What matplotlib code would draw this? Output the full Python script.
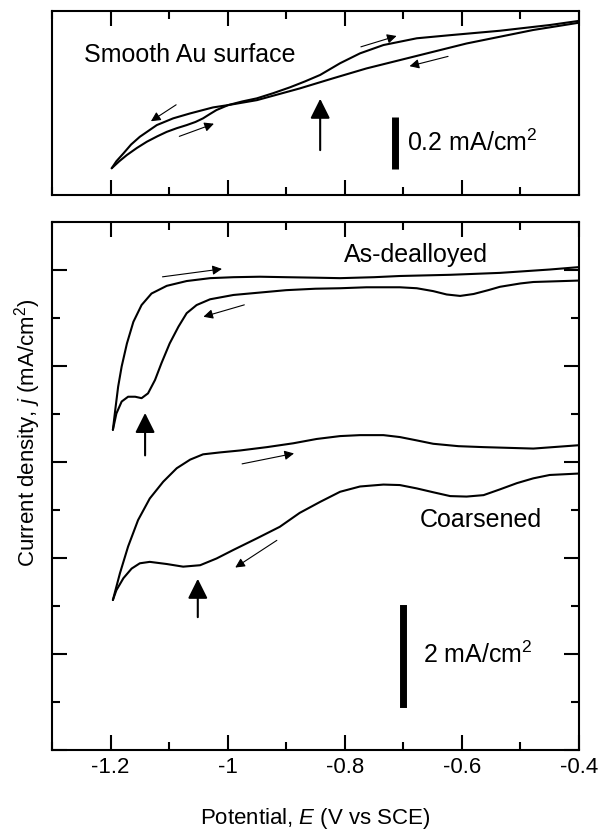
import matplotlib
matplotlib.use('Agg')
import matplotlib.pyplot as plt
from matplotlib.ticker import MultipleLocator, NullLocator, NullFormatter

plt.rcParams['font.family'] = ['Liberation Sans', 'DejaVu Sans']
plt.rcParams['mathtext.fontset'] = 'custom'
plt.rcParams['mathtext.rm'] = 'Liberation Sans'
plt.rcParams['mathtext.it'] = 'Liberation Sans:italic'

# smooth Au surface (mA/cm2, arbitrary offset)
smooth_fwd_E = [-1.198, -1.185, -1.172, -1.155, -1.138, -1.120, -1.104, -1.087, -1.070, -1.055,
                -1.042, -1.030, -1.019, -0.999, -0.975, -0.950, -0.922, -0.894, -0.868, -0.842,
                -0.808, -0.774, -0.734, -0.677, -0.620, -0.535, -0.450, -0.400]
smooth_fwd_j = [0.103, 0.130, 0.154, 0.181, 0.205, 0.226, 0.243, 0.257, 0.269, 0.281,
                0.295, 0.312, 0.327, 0.346, 0.360, 0.372, 0.392, 0.414, 0.437, 0.462,
                0.507, 0.545, 0.577, 0.603, 0.615, 0.632, 0.654, 0.670]
smooth_rev_E = [-0.400, -0.478, -0.535, -0.592, -0.649, -0.706, -0.763, -0.820, -0.877,
                -0.950, -0.999, -1.025, -1.064, -1.093, -1.121, -1.150, -1.165, -1.178, -1.190, -1.198]
smooth_rev_j = [0.663, 0.635, 0.609, 0.583, 0.551, 0.519, 0.487, 0.449, 0.410,
                0.365, 0.346, 0.337, 0.314, 0.295, 0.269, 0.224, 0.194, 0.160, 0.130, 0.103]

# as-dealloyed (mA/cm2, offset)
dea_fwd_E = [-1.196, -1.192, -1.187, -1.181, -1.172, -1.161, -1.147, -1.130, -1.104, -1.070,
             -1.030, -0.990, -0.945, -0.900, -0.850, -0.808, -0.750, -0.706, -0.620, -0.535,
             -0.450, -0.400]
dea_fwd_j = [6.67, 7.08, 7.57, 7.99, 8.47, 8.92, 9.27, 9.51, 9.67, 9.77,
             9.83, 9.85, 9.86, 9.85, 9.84, 9.83, 9.85, 9.875, 9.90, 9.94,
             10.01, 10.06]
dea_rev_E = [-0.400, -0.478, -0.500, -0.535, -0.555, -0.580, -0.603, -0.626, -0.649, -0.677,
             -0.706, -0.763, -0.808, -0.850, -0.900, -0.945, -0.990, -1.030, -1.053, -1.070,
             -1.084, -1.099, -1.113, -1.124, -1.136, -1.147, -1.158, -1.170, -1.181, -1.190,
             -1.196]
dea_rev_j = [9.78, 9.75, 9.72, 9.65, 9.58, 9.50, 9.46, 9.49, 9.56, 9.62,
             9.64, 9.64, 9.62, 9.61, 9.58, 9.53, 9.48, 9.39, 9.27, 9.10,
             8.82, 8.47, 8.06, 7.71, 7.43, 7.33, 7.36, 7.36, 7.26, 7.01,
             6.67]

# coarsened (mA/cm2, offset)
coa_fwd_E = [-1.196, -1.184, -1.170, -1.153, -1.133, -1.110, -1.087, -1.064, -1.042, -1.013,
             -0.979, -0.933, -0.888, -0.848, -0.808, -0.774, -0.734, -0.706, -0.677, -0.649,
             -0.606, -0.563, -0.478, -0.400]
coa_fwd_j = [3.125, 3.68, 4.24, 4.79, 5.24, 5.59, 5.87, 6.05, 6.16, 6.20,
             6.24, 6.31, 6.39, 6.48, 6.54, 6.56, 6.56, 6.52, 6.45, 6.38,
             6.33, 6.31, 6.28, 6.35]
coa_rev_E = [-0.400, -0.450, -0.478, -0.506, -0.535, -0.563, -0.592, -0.620, -0.649, -0.677,
             -0.706, -0.734, -0.774, -0.808, -0.842, -0.877, -0.911, -0.950, -0.990, -1.019,
             -1.047, -1.076, -1.104, -1.133, -1.150, -1.164, -1.178, -1.190, -1.196]
coa_rev_j = [5.76, 5.73, 5.66, 5.56, 5.43, 5.31, 5.28, 5.29, 5.37, 5.45,
             5.52, 5.53, 5.49, 5.38, 5.17, 4.94, 4.65, 4.41, 4.17, 3.99,
             3.85, 3.82, 3.875, 3.92, 3.89, 3.78, 3.58, 3.33, 3.125]

fig = plt.figure(figsize=(6.03, 8.33), dpi=100)
ax_top = fig.add_axes([0.0862, 0.7659, 0.874, 0.2209])
ax_bot = fig.add_axes([0.0862, 0.0996, 0.874, 0.6339])

line_kw = dict(color='black', lw=1.5, solid_joinstyle='round', solid_capstyle='round')
ax_top.plot(smooth_fwd_E, smooth_fwd_j, **line_kw)
ax_top.plot(smooth_rev_E, smooth_rev_j, **line_kw)
ax_bot.plot(dea_fwd_E, dea_fwd_j, **line_kw)
ax_bot.plot(dea_rev_E, dea_rev_j, **line_kw)
ax_bot.plot(coa_fwd_E, coa_fwd_j, **line_kw)
ax_bot.plot(coa_rev_E, coa_rev_j, **line_kw)

for ax in (ax_top, ax_bot):
    ax.set_xlim(-1.3, -0.4)
    ax.xaxis.set_major_locator(MultipleLocator(0.2))
    ax.xaxis.set_minor_locator(MultipleLocator(0.1))
    ax.tick_params(which='both', direction='in', top=True, right=True, width=1.5)
    ax.tick_params(which='major', length=11)
    ax.tick_params(which='minor', length=5.5)
    for s in ax.spines.values():
        s.set_linewidth(1.5)

ax_top.set_ylim(0, 0.708)
ax_top.yaxis.set_major_locator(NullLocator())
ax_top.xaxis.set_major_formatter(NullFormatter())

ax_bot.set_ylim(0, 11)
ax_bot.yaxis.set_major_locator(MultipleLocator(2))
ax_bot.yaxis.set_minor_locator(MultipleLocator(1))
ax_bot.yaxis.set_major_formatter(NullFormatter())
ax_bot.set_xticks([-1.2, -1.0, -0.8, -0.6, -0.4])
ax_bot.set_xticklabels(['-1.2', '-1', '-0.8', '-0.6', '-0.4'], fontsize=16)
ax_bot.tick_params(axis='x', pad=5)
ax_bot.set_xlabel('Potential, $E$ (V vs SCE)', fontsize=16, labelpad=20)
fig.text(0.045, 0.48, 'Current density, $j$ (mA/cm$^2$)', fontsize=16,
         rotation=90, ha='center', va='center')

thin = dict(arrowstyle='-|>', lw=0.8, color='black', mutation_scale=14)
thick = dict(arrowstyle='-|>', lw=1.5, color='black', mutation_scale=30)

def arrow(ax, start, end, props):
    ax.annotate('', xy=end, xytext=start, arrowprops=props)

# top panel arrows
arrow(ax_top, (-1.084, 0.353), (-1.135, 0.278), thin)
arrow(ax_top, (-1.087, 0.222), (-1.019, 0.278), thin)
arrow(ax_top, (-0.777, 0.567), (-0.707, 0.615), thin)
arrow(ax_top, (-0.619, 0.536), (-0.694, 0.493), thin)
arrow(ax_top, (-0.842, 0.162), (-0.842, 0.381), thick)

# bottom panel arrows
arrow(ax_bot, (-1.116, 9.85), (-1.005, 10.03), thin)
arrow(ax_bot, (-0.967, 9.29), (-1.046, 9.01), thin)
arrow(ax_bot, (-1.141, 6.08), (-1.141, 7.08), thick)
arrow(ax_bot, (-0.980, 5.95), (-0.882, 6.19), thin)
arrow(ax_bot, (-0.912, 4.40), (-0.991, 3.77), thin)
arrow(ax_bot, (-1.051, 2.71), (-1.051, 3.625), thick)

# scale bars
ax_top.plot([-0.714, -0.714], [0.10, 0.30], color='black', lw=5, solid_capstyle='butt')
ax_top.text(-0.694, 0.20, '0.2 mA/cm$^2$', fontsize=18, va='center', ha='left')
ax_bot.plot([-0.70, -0.70], [0.95, 2.95], color='black', lw=5)
ax_bot.text(-0.667, 1.98, '2 mA/cm$^2$', fontsize=18, va='center', ha='left')

ax_top.text(-1.065, 0.54, 'Smooth Au surface', fontsize=18, ha='center', va='center')
ax_bot.text(-0.678, 10.31, 'As-dealloyed', fontsize=18, ha='center', va='center')
ax_bot.text(-0.567, 4.79, 'Coarsened', fontsize=18, ha='center', va='center')

fig.savefig('out.png', dpi=100)
